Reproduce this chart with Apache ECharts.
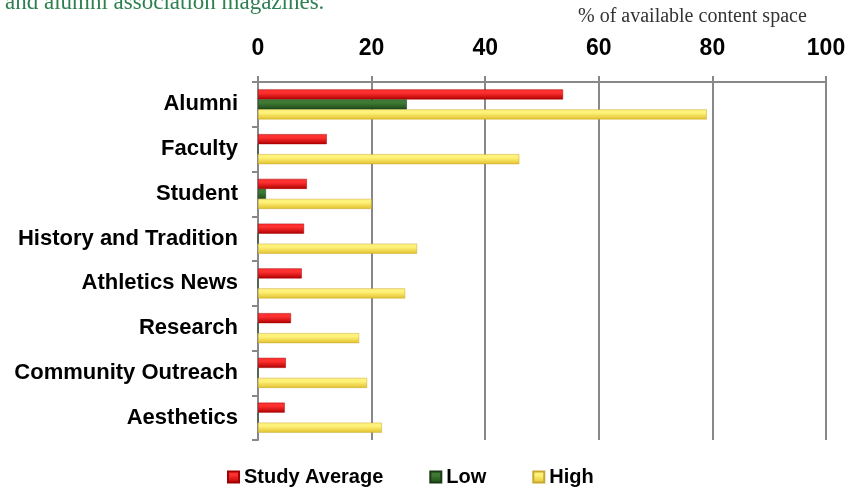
<!DOCTYPE html>
<html>
<head>
<meta charset="utf-8">
<script src="https://cdn.jsdelivr.net/npm/echarts@6/dist/echarts.min.js"></script>
<style>
  html, body { margin: 0; padding: 0; background: #fff; }
  #chart { width: 850px; height: 498px; }
</style>
</head>
<body>
<div id="chart"></div>
<script>
  // data
  let categories = ['Alumni', 'Faculty', 'Student', 'History and Tradition',
    'Athletics News', 'Research', 'Community Outreach', 'Aesthetics'];
  let studyAverage = [53.7, 12.1, 8.6, 8.1, 7.7, 5.8, 4.9, 4.7];
  let lowValues = [26.2, 0, 1.4, 0, 0, 0, 0, 0];
  let highValues = [79, 46, 20, 28, 25.9, 17.8, 19.2, 21.8];
  let seriesNames = ['Study Average', 'Low', 'High'];

  function barGrad(top, bottom) {
    return new echarts.graphic.LinearGradient(0, 0, 0, 1, [
      { offset: 0, color: top },
      { offset: 0.35, color: top },
      { offset: 1, color: bottom }
    ]);
  }

  let chart = echarts.init(document.getElementById('chart'));
  let option = {
    animation: false,
    title: [{
      text: 'and alumni association magazines.',
      left: 0,
      top: -14,
      textStyle: { fontFamily: 'Liberation Serif', fontWeight: 'normal', fontSize: 23, color: '#2e8050' }
    }, {
      text: '% of available content space',
      left: 573,
      top: 2,
      textStyle: { fontFamily: 'Liberation Serif', fontWeight: 'normal', fontSize: 20, color: '#333' }
    }],
    grid: { left: 258, right: 24, top: 82, bottom: 58 },
    legend: {
      bottom: 6,
      left: 222,
      itemWidth: 11,
      itemHeight: 11,
      itemGap: 46,
      icon: 'rect',
      textStyle: { fontFamily: 'Liberation Sans', fontWeight: 'bold', fontSize: 20, color: '#000' },
      data: seriesNames
    },
    xAxis: {
      type: 'value',
      position: 'top',
      min: 0,
      max: 100,
      interval: 20,
      axisLine: { show: true, lineStyle: { color: '#888', width: 2 } },
      axisTick: { show: true, length: 6, lineStyle: { color: '#888', width: 2 } },
      axisLabel: { fontFamily: 'Liberation Sans', fontWeight: 'bold', fontSize: 23, color: '#000', margin: 22 },
      splitLine: { show: true, lineStyle: { color: '#888', width: 2 } }
    },
    yAxis: {
      type: 'category',
      inverse: true,
      data: categories,
      axisLine: { show: true, lineStyle: { color: '#888', width: 2 } },
      axisTick: { show: true, length: 6, lineStyle: { color: '#888', width: 2 } },
      axisLabel: { fontFamily: 'Liberation Sans', fontWeight: 'bold', fontSize: 22, color: '#000', margin: 20 },
      splitLine: { show: false }
    },
    series: [{
      name: seriesNames[0],
      type: 'bar',
      data: studyAverage,
      barWidth: 10,
      barGap: '0%',
      barCategoryGap: '33%',
      itemStyle: { color: barGrad('#ff3030', '#b00000'), borderColor: '#a00000', borderWidth: 0.5 }
    }, {
      name: seriesNames[1],
      type: 'bar',
      data: lowValues,
      barWidth: 10,
      itemStyle: { color: barGrad('#3f7a35', '#1e4a18'), borderColor: '#1a3a14', borderWidth: 0.5 }
    }, {
      name: seriesNames[2],
      type: 'bar',
      data: highValues,
      barWidth: 10,
      itemStyle: { color: barGrad('#fff27a', '#e2c12e'), borderColor: '#c8a830', borderWidth: 0.5 }
    }]
  };
  chart.setOption(option);
</script>
</body>
</html>
